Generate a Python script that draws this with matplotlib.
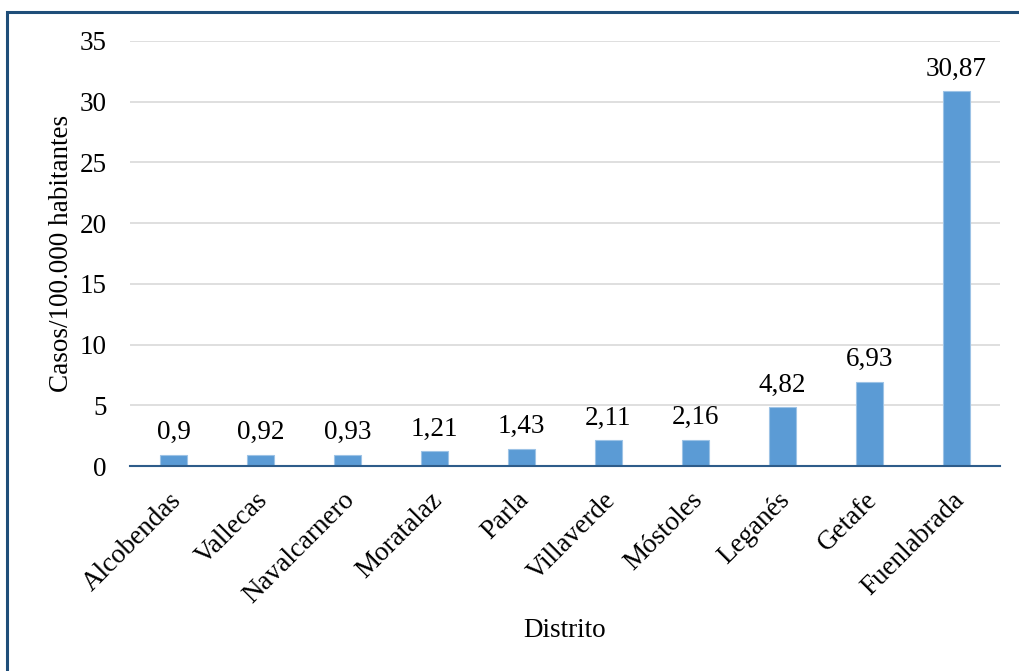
import numpy as np
import matplotlib.pyplot as plt
import matplotlib.transforms as mtransforms
from matplotlib.patches import Rectangle

distritos = ["Alcobendas", "Vallecas", "Navalcarnero", "Moratalaz", "Parla",
             "Villaverde", "Móstoles", "Leganés", "Getafe", "Fuenlabrada"]
casos = [0.9, 0.92, 0.93, 1.21, 1.43, 2.11, 2.16, 4.82, 6.93, 30.87]
etiquetas = ["0,9", "0,92", "0,93", "1,21", "1,43", "2,11", "2,16", "4,82", "6,93", "30,87"]
yticks = [0, 5, 10, 15, 20, 25, 30, 35]

plt.rcParams['font.family'] = ['Liberation Serif', 'DejaVu Serif']
fs = 19.5

fig = plt.figure(figsize=(10.19, 6.71), dpi=100)
ax = fig.add_axes([130/1019, 1 - 466/671, 870/1019, 425/671])

x = np.arange(len(distritos))
bars = ax.bar(x, casos, width=0.31, color='#5B9BD5', edgecolor='#9DC3E6',
              linewidth=0.8, zorder=3)

for b, t in zip(bars, etiquetas):
    ax.annotate(t, (b.get_x() + b.get_width() / 2, b.get_height()),
                xytext=(0, 7), textcoords='offset points',
                ha='center', va='bottom', fontsize=fs)

ax.set_xlim(-0.5, len(distritos) - 0.5)
ax.set_ylim(0, 35)
ax.set_yticks(yticks)
ax.set_yticklabels([str(v) for v in yticks], fontsize=fs)
ax.set_xticks(x)
ax.set_xticklabels(distritos, rotation=45, ha='right', va='top',
                   rotation_mode='anchor', fontsize=fs)
ax.tick_params(axis='both', length=0)
ax.tick_params(axis='y', pad=17)
ax.tick_params(axis='x', pad=17)

# nudge rotated category labels a bit to the left and up
shift = mtransforms.ScaledTranslation(-5/100, 2/100, fig.dpi_scale_trans)
for lbl in ax.get_xticklabels():
    lbl.set_transform(lbl.get_transform() + shift)

ax.grid(axis='y', color='#D9D9D9', linewidth=1.2, zorder=0)
for s in ['left', 'right', 'top']:
    ax.spines[s].set_visible(False)
ax.spines['bottom'].set_color('#2E5C8A')
ax.spines['bottom'].set_linewidth(1.5)
ax.spines['bottom'].set_zorder(4)

ax.set_ylabel("Casos/100.000 habitantes", fontsize=fs, labelpad=4)
ax.set_xlabel("Distrito", fontsize=fs, labelpad=7)

# marco exterior
fig.patches.append(Rectangle((7/1019, -0.05), 1.1, 1 - 12/671 + 0.05,
                             transform=fig.transFigure, fill=False,
                             edgecolor='#1F4E79', linewidth=2.2))

fig.savefig("out.png", dpi=100)
